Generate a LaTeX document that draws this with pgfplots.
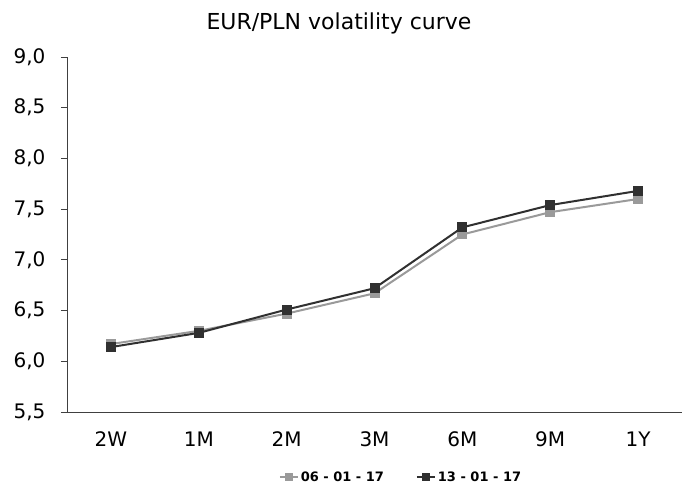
\documentclass[border=0pt]{standalone}
\usepackage{pgfplots}
\pgfplotsset{compat=1.18}
\usepackage{fontspec}
\setmainfont{DejaVu Sans}
\definecolor{sgray}{HTML}{9A9A9A}
\definecolor{sdark}{HTML}{303030}
\definecolor{axgray}{HTML}{404040}
\begin{document}
\begin{tikzpicture}[x=1pt,y=1pt]
\begin{axis}[
  at={(0pt,0pt)}, anchor=south west,
  scale only axis, width=615pt, height=355pt,
  xmin=-0.5, xmax=6.5, ymin=5.5, ymax=9.0,
  axis x line*=bottom, axis y line*=left,
  axis line style={axgray, line width=0.9pt},
  xtick=data, xticklabels={2W,1M,2M,3M,6M,9M,1Y},
  xtick style={draw=none},
  ytick={5.5,6.0,...,9.0},
  ytick style={axgray, line width=0.9pt},
  tick align=outside, major tick length=6pt,
  /pgf/number format/use comma,
  /pgf/number format/fixed,
  /pgf/number format/fixed zerofill,
  /pgf/number format/precision=1,
  /pgf/number format/assume math mode=true,
  ticklabel style={font=\fontsize{20}{22}\selectfont, text=black},
  yticklabel style={xshift=-12pt},
  xticklabel style={yshift=-10pt},
  legend style={at={(0.543,-0.183)}, anchor=center, draw=none, font=\bfseries\fontsize{13}{15}\selectfont, legend columns=2, /tikz/every even column/.append style={column sep=30pt}},
  legend image code/.code={\draw[#1] (0pt,0pt) -- (18pt,0pt); \draw[#1,only marks,mark size=3.2pt] plot coordinates {(9pt,0pt)};},
  clip=false,
]
\addplot[color=sgray, line width=2pt, mark=square*, mark size=4pt, mark options={solid}] coordinates {
(0,6.17) (1,6.30) (2,6.47) (3,6.67) (4,7.25) (5,7.47) (6,7.60)};
\addlegendentry{06 - 01 - 17}
\addplot[color=sdark, line width=2pt, mark=square*, mark size=4pt, mark options={solid}] coordinates {
(0,6.14) (1,6.28) (2,6.51) (3,6.72) (4,7.32) (5,7.54) (6,7.68)};
\addlegendentry{13 - 01 - 17}
\end{axis}
\node[font=\fontsize{22}{24}\selectfont] at (272pt,389pt) {EUR/PLN volatility curve};
\pgfresetboundingbox
\path (-67pt,-74pt) rectangle (630pt,412pt);
\end{tikzpicture}
\end{document}
